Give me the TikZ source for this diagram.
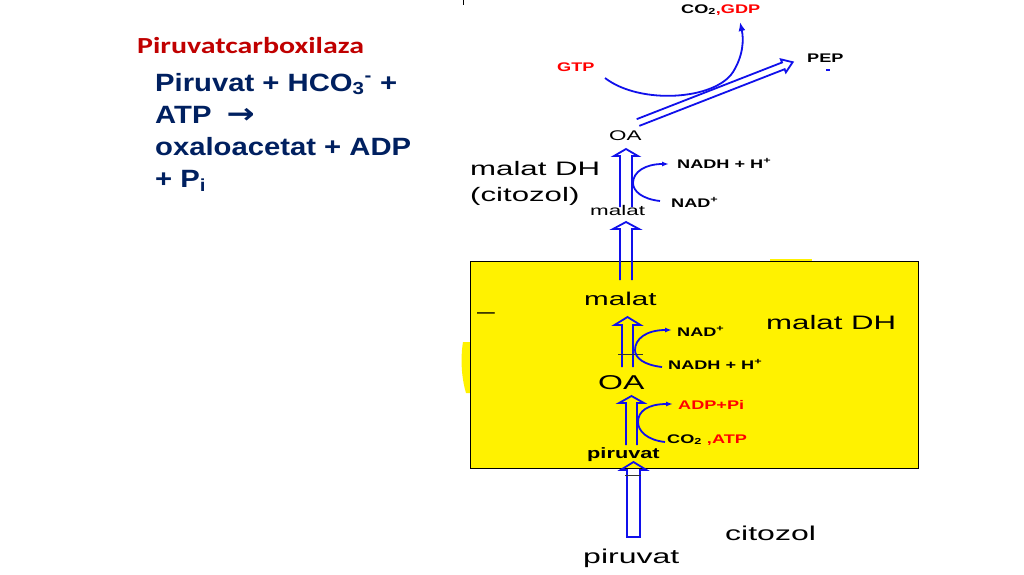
\documentclass[tikz,border=0pt]{standalone}
\usepackage{fontspec}
\usetikzlibrary{arrows.meta}
\newfontfamily\arw[FakeStretch=1.6]{Liberation Sans}
\newfontfamily\arb[FakeStretch=1.45]{Liberation Sans}
\newfontfamily\arl[FakeStretch=1.17]{Liberation Sans}
\newfontfamily\calfont[FakeStretch=1.3]{Carlito}
\newfontfamily\dvb[FakeStretch=1.2]{DejaVu Sans}
\definecolor{navy}{RGB}{0,32,96}
\definecolor{dred}{RGB}{192,0,0}
\definecolor{lred}{RGB}{255,0,0}
\definecolor{ablue}{RGB}{16,16,235}
\newcommand{\fs}[1]{\fontsize{#1}{#1}\selectfont}
\newcommand{\hollow}[7]{\draw[harrow, shift={(#1)}, rotate=#2] (0,-#4) -- (#3-#6,-#4) -- (#3-#6,-#5) -- (#3,0) -- (#3-#6,#5) -- (#3-#6,#4) -- (0,#4) #7;}
\tikzset{
  lbl/.style={inner sep=0pt, anchor=base west},
  big/.style={lbl, font=\arw\fs{19.5}},
  sml/.style={lbl, font=\arb\bfseries\fs{12.5}},
  lefttext/.style={lbl, font=\arl\bfseries\fs{25}, text=navy},
  harrow/.style={draw=ablue, line width=1.8pt, line join=miter},
  side/.style={draw=ablue, line width=1.8pt, -{Latex[length=7pt,width=5pt]}},
  tick/.style={draw=black!80, line width=0.8pt}
}
\begin{document}
\begin{tikzpicture}[x=1pt,y=-1pt]
\useasboundingbox (0,0) rectangle (1024,574);
\fill[white] (0,0) rectangle (1024,574);
% top tick
\draw[black, line width=1pt] (463,0) -- (463,5);
% left text
\node[lbl, font=\calfont\bfseries\fs{23}, text=dred] (title) at (137,53) {Piruvatcarboxilaza};
\node[lefttext] (eq1) at (155,91) {Piruvat + HCO\textsubscript{3}\textsuperscript{-} +};
\node[lefttext] (eq2) at (155,123) {ATP\hspace{15pt}{\dvb\bfseries\fs{28}→}};
\node[lefttext] (eq3) at (155,155) {oxaloacetat + ADP};
\node[lefttext] (eq4) at (155,187) {+ P\textsubscript{i}};
% yellow box
\fill[yellow] (463,342) .. controls (460,360) and (462,380) .. (466,393) -- (471,393) -- (471,342) -- cycle;
\fill[yellow] (770,258.5) rectangle (812,262);
\draw[fill=yellow, draw=black, line width=1pt] (470,261) rectangle (918,468);
\node[lbl, font=\arw\fs{20}] (dash) at (477,318) {–};
\node[big] (mdhbox) at (766,329) {malat DH};
\node[lbl, font=\arw\fs{18.5}] (malbox) at (584,305) {malat};
\node[lbl, font=\arw\fs{20}] (oabox) at (598,389) {OA};
\node[lbl, font=\arb\bfseries\fs{15}] (pirbox) at (587,458) {piruvat};
\node[sml] (nadbox) at (677,336) {NAD\textsuperscript{+}};
\node[sml] (nadhbox) at (668,369) {NADH + H\textsuperscript{+}};
\node[sml, text=lred] (adp) at (678,409) {ADP+Pi};
\node[sml] (co2atp) at (667,443) {CO\textsubscript{2} {\color{lred},ATP}};
% cytosol labels
\node[lbl, font=\arw\fs{20}] (citozol) at (725,540) {citozol};
\node[lbl, font=\arw\fs{20}] (pirbot) at (583,563) {piruvat};
\node[big] (mdhtop) at (470,175) {malat DH};
\node[big] (citop) at (470,201) {(citozol)};
\node[lbl, font=\arw\fs{14}] (maltop) at (590,215) {malat};
\node[sml] (nadhtop) at (677,168) {NADH + H\textsuperscript{+}};
\node[sml] (nadtop) at (671,207) {NAD\textsuperscript{+}};
\node[lbl, font=\arw\fs{14}] (oatop) at (609,140) {OA};
\node[sml, text=lred] (gtp) at (557,71) {GTP};
\node[sml] (pep) at (807,62) {PEP};
\node[sml] (co2gdp) at (681,13) {CO\textsubscript{2}{\color{lred},GDP}};
% hollow arrows
\coordinate (aA) at (633.5,537);
\coordinate (aB) at (631.5,445);
\coordinate (aC) at (627.5,367);
\coordinate (aD) at (626,280);
\coordinate (aE) at (626,207);
\coordinate (aF) at (638,122.5);
\hollow{aA}{90}{75}{6.5}{13}{8}{-- cycle}
\hollow{aB}{90}{49}{5.5}{12.5}{7}{}
\hollow{aC}{90}{50}{5.5}{13}{8}{}
\hollow{aD}{90}{58}{6}{13}{7}{}
\hollow{aE}{90}{58}{6}{12}{7}{}
\hollow{aF}{21.3}{166}{3.6}{7}{10}{}
% cross ticks
\draw[tick] (618,354) -- (643,354);
\draw[tick] (625,475) -- (641,475);
% side arrows
\draw[side] (660,201) .. controls (642,199) and (633,191) .. (633,183) .. controls (633,172) and (645,164) .. (669,164);
\draw[side] (662,367) .. controls (644,365) and (635,358) .. (635,350) .. controls (635,339) and (646,330) .. (672,330);
\draw[side] (665,442) .. controls (647,440) and (638,431) .. (638,422) .. controls (638,411) and (648,404) .. (673,404);
% GTP curve
\draw[draw=ablue, line width=1.8pt, -{Latex[length=9pt,width=7pt]}] (605,78) .. controls (640,105) and (715,100) .. (733,72) .. controls (743,56) and (744,40) .. (740,22);
% small blue mark
\draw[ablue, line width=1.5pt] (826,70) -- (830,70);
\end{tikzpicture}
\end{document}
